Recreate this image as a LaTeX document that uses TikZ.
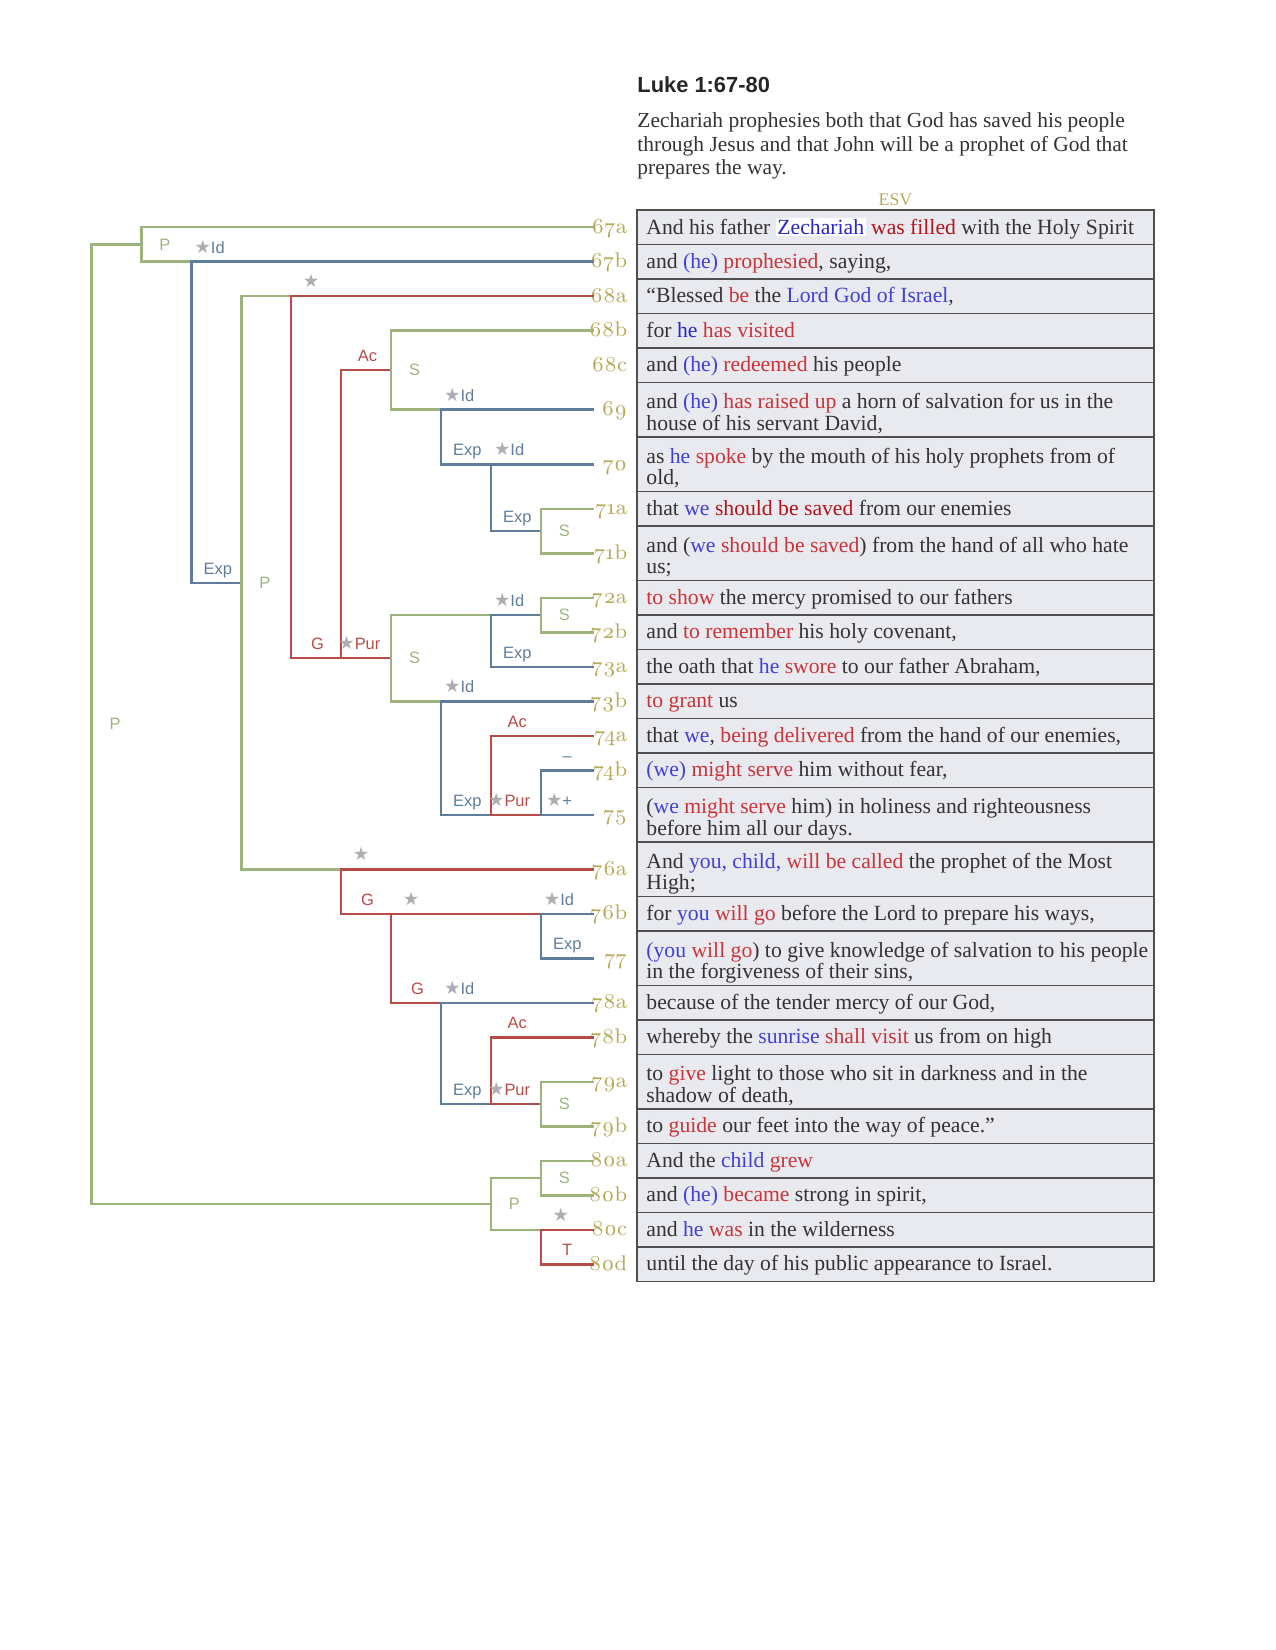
\documentclass[tikz,border=0pt]{standalone}
\usepackage{fontspec}
\setmainfont{Liberation Serif}
\newfontfamily\sansfont{Liberation Sans}
\newfontfamily\symfont{DejaVu Sans}
\newfontfamily\versefont[Numbers=OldStyle]{lmroman8-regular.otf}
\usepackage{tikz}
\usetikzlibrary{calc}

\definecolor{lgreen}{HTML}{9CB47C}
\definecolor{lblue}{HTML}{5E7D9C}
\definecolor{lred}{HTML}{B84B45}
\definecolor{versecol}{HTML}{B8A957}
\definecolor{stargrey}{HTML}{AEAEB2}
\definecolor{cellfill}{HTML}{E8EAEF}
\definecolor{cellline}{HTML}{4F4F4F}
\definecolor{ink}{HTML}{333333}
\definecolor{subj}{HTML}{4040D8}
\definecolor{verb}{HTML}{CC3338}
\definecolor{subjdk}{HTML}{2626CC}
\definecolor{verbdk}{HTML}{B5121B}
\setlength{\fboxsep}{0.8pt}

\newcommand\sj[1]{\textcolor{subj}{#1}}
\newcommand\vb[1]{\textcolor{verb}{#1}}
\newcommand\strmk{{\symfont\fontsize{8.8}{9}\selectfont\color{stargrey}★}}
\newcommand\topst{\rule{0pt}{7.4pt}}
\newcommand\botst{\rule[-2.4pt]{0pt}{2.4pt}}

\tikzset{
  grn/.style={draw=lgreen, line width=1.2pt, line cap=rect},
  blu/.style={draw=lblue, line width=1.2pt, line cap=rect},
  rd/.style={draw=lred, line width=1.2pt, line cap=rect},
  cell/.style={draw=cellline, fill=cellfill, line width=0.9pt},
  rowtext/.style={anchor=west, inner sep=0pt, align=left, text=ink, font=\fontsize{10.4}{10.2}\selectfont},
  verse/.style={anchor=base east, inner sep=0pt, text=versecol, font=\versefont\fontsize{10.2}{10}\selectfont},
  rel/.style={inner sep=0pt, anchor=base, xshift=12.7pt, yshift=4.1pt, font=\sansfont\fontsize{7.9}{9}\selectfont},
  lone/.style={inner sep=0pt, anchor=base, xshift=9.6pt, yshift=4.1pt},
  crd/.style={inner sep=0pt, xshift=11.3pt, text=lgreen, font=\sansfont\fontsize{7.9}{9}\selectfont},
}

\begin{document}
\begin{tikzpicture}[x=0.48pt, y=-0.48pt]
	\useasboundingbox (0,0) rectangle (1275,1650);
	%% heading
	\node[anchor=base west, inner sep=0pt, text=black!85, font=\sansfont\bfseries\fontsize{10.5}{12}\selectfont] (title) at (637,92.7) {Luke 1:67-80};
	\node[anchor=north west, inner sep=0pt, align=left, text=ink, font=\fontsize{10.3}{11.4}\selectfont] (desc) at (637,112) {Zechariah prophesies both that God has saved his people\\through Jesus and that John will be a prophet of God that\\prepares the way.};
	\node[inner sep=0pt, text=versecol, font=\fontsize{8.5}{10}\selectfont] (esv) at (895.4,199.3) {ESV};
	%% table rows
	\foreach \vn/\ya/\yb/\txt in {
		67a/210/244.5/{And his father \colorbox{white}{\textcolor{subjdk}{Zechariah}} \textcolor{verbdk}{was filled} with the Holy Spirit},
		67b/244.5/279/{and \sj{(he)} \vb{prophesied}, saying,},
		68a/279/313.5/{“Blessed \vb{be} the \sj{Lord God of Israel},},
		68b/313.5/348/{for \textcolor{subjdk}{he} \vb{has visited}},
		68c/348/382.5/{and \sj{(he)} \vb{redeemed} his people},
		69/382.5/437/{and \sj{(he)} \vb{has raised up} a horn of salvation for us in the\\house of his servant David,},
		70/437/491.5/{as \sj{he} \vb{spoke} by the mouth of his holy prophets from of\\old,},
		71a/491.5/526/{that \sj{we} \textcolor{verbdk}{should be saved} from our enemies},
		71b/526/580.5/{and (\sj{we} \vb{should be saved}) from the hand of all who hate\\us;},
		72a/580.5/615/{\vb{to show} the mercy promised to our fathers},
		72b/615/649.5/{and \vb{to remember} his holy covenant,},
		73a/649.5/684/{the oath that \sj{he} \vb{swore} to our father Abraham,},
		73b/684/718.5/{\vb{to grant} us},
		74a/718.5/753/{that \sj{we}, \vb{being delivered} from the hand of our enemies,},
		74b/753/787.5/{\sj{(we)} \vb{might serve} him without fear,},
		75/787.5/842/{(\sj{we} \vb{might serve} him) in holiness and righteousness\\before him all our days.},
		76a/842/896.5/{And \sj{you, child,} \vb{will be called} the prophet of the Most\\High;},
		76b/896.5/931/{for \sj{you} \vb{will go} before the Lord to prepare his ways,},
		77/931/985.5/{\sj{(you} \vb{will go}) to give knowledge of salvation to his people\\in the forgiveness of their sins,},
		78a/985.5/1020/{because of the tender mercy of our God,},
		78b/1020/1054.5/{whereby the \sj{sunrise} \vb{shall visit} us from on high},
		79a/1054.5/1109/{to \vb{give} light to those who sit in darkness and in the\\shadow of death,},
		79b/1109/1143.5/{to \vb{guide} our feet into the way of peace.”},
		80a/1143.5/1178/{And the \sj{child} \vb{grew}},
		80b/1178/1212.5/{and \sj{(he)} \vb{became} strong in spirit,},
		80c/1212.5/1247/{and \sj{he} \vb{was} in the wilderness},
		80d/1247/1281.5/{until the day of his public appearance to Israel.}}{
		\draw[cell] (637,\ya) rectangle (1154,\yb);
		\node[rowtext] (t\vn) at (646,{(\ya+\yb)/2+1.5+(\yb-\ya-34.5)*0.15}) {\topst\txt\botst};
		\node[verse] (v\vn) at (627.5,{(\ya+\yb)/2+6}) {\vn};
		\coordinate (e\vn) at (593,{(\ya+\yb)/2});
	}
	%% bracket levels and junctions
	\foreach \k in {0,...,9}
		\coordinate (L\k) at ({91.5+49.92*\k},0);
	\coordinate (jA) at ($(e67a)!.5!(e67b)$);
	\coordinate (jP3) at ($(e68a)!.5!(e76a)$);
	\coordinate (jS1) at ($(e68b)!.5!(e69)$);
	\coordinate (jS71) at ($(e71a)!.5!(e71b)$);
	\coordinate (jS72) at ($(e72a)!.5!(e72b)$);
	\coordinate (jS2) at ($(jS72)!.5!(e73b)$);
	\coordinate (jS79) at ($(e79a)!.5!(e79b)$);
	\coordinate (jS80) at ($(e80a)!.5!(e80b)$);
	\coordinate (jZ) at ($(jS80)!.5!(e80c)$);
	\coordinate (jR) at ($(jA)!.5!(jZ)$);
	%% root
	\draw[grn] (L0|-jA) -- (L0|-jZ);
	\draw[grn] (L0|-jA) -- (L1|-jA);
	\draw[grn] (L0|-jZ) -- (L8|-jZ);
	\node[crd] (pR) at (L0|-jR) {P};
	%% 67
	\draw[grn] (L1|-e67a) -- (L1|-e67b);
	\draw[grn] (L1|-e67a) -- (e67a);
	\draw[grn] (L1|-e67b) -- (L2|-e67b);
	\node[crd] (p67) at (L1|-jA) {P};
	\draw[blu] (L2|-e67b) -- (L2|-jP3);
	\draw[blu] (L2|-e67b) -- (e67b);
	\draw[blu] (L2|-jP3) -- (L3|-jP3);
	\node[rel, text=lblue] (id67) at (L2|-e67b) {\llap{\strmk}Id};
	\node[rel, text=lblue] (ex68) at (L2|-jP3) {Exp};
	%% 68a - 76a
	\draw[grn] (L3|-e68a) -- (L3|-e76a);
	\draw[grn] (L3|-e68a) -- (L4|-e68a);
	\draw[grn] (L3|-e76a) -- (L5|-e76a);
	\node[crd] (p68) at (L3|-jP3) {P};
	\draw[rd] (L4|-e68a) -- (L4|-jS2);
	\draw[rd] (L4|-e68a) -- (e68a);
	\draw[rd] (L4|-jS2) -- (L5|-jS2);
	\node[lone] (st68) at (L4|-e68a) {\strmk};
	\node[rel, text=lred] (g68) at (L4|-jS2) {G};
	\draw[rd] (L5|-jS1) -- (L5|-jS2);
	\draw[rd] (L5|-jS1) -- (L6|-jS1);
	\draw[rd] (L5|-jS2) -- (L6|-jS2);
	\node[rel, text=lred] (ac68) at (L5|-jS1) {Ac};
	\node[rel, text=lred] (pur72) at (L5|-jS2) {\llap{\strmk}Pur};
	%% 68b - 71b
	\draw[grn] (L6|-e68b) -- (L6|-e69);
	\draw[grn] (L6|-e68b) -- (e68b);
	\draw[grn] (L6|-e69) -- (L7|-e69);
	\node[crd] (s68) at (L6|-jS1) {S};
	\draw[blu] (L7|-e69) -- (L7|-e70);
	\draw[blu] (L7|-e69) -- (e69);
	\draw[blu] (L7|-e70) -- (L8|-e70);
	\node[rel, text=lblue] (id69) at (L7|-e69) {\llap{\strmk}Id};
	\node[rel, text=lblue] (ex70) at (L7|-e70) {Exp};
	\draw[blu] (L8|-e70) -- (L8|-jS71);
	\draw[blu] (L8|-e70) -- (e70);
	\draw[blu] (L8|-jS71) -- (L9|-jS71);
	\node[rel, text=lblue] (id70) at (L8|-e70) {\llap{\strmk}Id};
	\node[rel, text=lblue] (ex71) at (L8|-jS71) {Exp};
	\draw[grn] (L9|-e71a) -- (L9|-e71b);
	\draw[grn] (L9|-e71a) -- (e71a);
	\draw[grn] (L9|-e71b) -- (e71b);
	\node[crd] (s71) at (L9|-jS71) {S};
	%% 72a - 75
	\draw[grn] (L6|-jS72) -- (L6|-e73b);
	\draw[grn] (L6|-jS72) -- (L8|-jS72);
	\draw[grn] (L6|-e73b) -- (L7|-e73b);
	\node[crd] (s72) at (L6|-jS2) {S};
	\draw[blu] (L8|-jS72) -- (L8|-e73a);
	\draw[blu] (L8|-jS72) -- (L9|-jS72);
	\draw[blu] (L8|-e73a) -- (e73a);
	\node[rel, text=lblue] (id72) at (L8|-jS72) {\llap{\strmk}Id};
	\node[rel, text=lblue] (ex73) at (L8|-e73a) {Exp};
	\draw[grn] (L9|-e72a) -- (L9|-e72b);
	\draw[grn] (L9|-e72a) -- (e72a);
	\draw[grn] (L9|-e72b) -- (e72b);
	\node[crd] (s72b) at (L9|-jS72) {S};
	\draw[blu] (L7|-e73b) -- (L7|-e75);
	\draw[blu] (L7|-e73b) -- (e73b);
	\draw[blu] (L7|-e75) -- (L8|-e75);
	\node[rel, text=lblue] (id73) at (L7|-e73b) {\llap{\strmk}Id};
	\node[rel, text=lblue] (ex74) at (L7|-e75) {Exp};
	\draw[rd] (L8|-e74a) -- (L8|-e75);
	\draw[rd] (L8|-e74a) -- (e74a);
	\draw[rd] (L8|-e75) -- (L9|-e75);
	\node[rel, text=lred] (ac74) at (L8|-e74a) {Ac};
	\node[rel, text=lred] (pur74) at (L8|-e75) {\llap{\strmk}Pur};
	\draw[blu] (L9|-e74b) -- (L9|-e75);
	\draw[blu] (L9|-e74b) -- (e74b);
	\draw[blu] (L9|-e75) -- (e75);
	\node[rel, text=lblue] (mi74) at (L9|-e74b) {–};
	\node[rel, text=lblue] (pl75) at (L9|-e75) {\llap{\strmk}+};
	%% 76a - 79b
	\draw[rd] (L5|-e76a) -- (L5|-e76b);
	\draw[rd] (L5|-e76a) -- (e76a);
	\draw[rd] (L5|-e76b) -- (L6|-e76b);
	\node[lone] (st76) at (L5|-e76a) {\strmk};
	\node[rel, text=lred] (g76) at (L5|-e76b) {G};
	\draw[rd] (L6|-e76b) -- (L6|-e78a);
	\draw[rd] (L6|-e76b) -- (L9|-e76b);
	\draw[rd] (L6|-e78a) -- (L7|-e78a);
	\node[lone] (st76b) at (L6|-e76b) {\strmk};
	\node[rel, text=lred] (g78) at (L6|-e78a) {G};
	\draw[blu] (L9|-e76b) -- (L9|-e77);
	\draw[blu] (L9|-e76b) -- (e76b);
	\draw[blu] (L9|-e77) -- (e77);
	\node[rel, text=lblue] (id76) at (L9|-e76b) {\llap{\strmk}Id};
	\node[rel, text=lblue] (ex77) at (L9|-e77) {Exp};
	\draw[blu] (L7|-e78a) -- (L7|-jS79);
	\draw[blu] (L7|-e78a) -- (e78a);
	\draw[blu] (L7|-jS79) -- (L8|-jS79);
	\node[rel, text=lblue] (id78) at (L7|-e78a) {\llap{\strmk}Id};
	\node[rel, text=lblue] (ex79) at (L7|-jS79) {Exp};
	\draw[rd] (L8|-e78b) -- (L8|-jS79);
	\draw[rd] (L8|-e78b) -- (e78b);
	\draw[rd] (L8|-jS79) -- (L9|-jS79);
	\node[rel, text=lred] (ac78) at (L8|-e78b) {Ac};
	\node[rel, text=lred] (pur79) at (L8|-jS79) {\llap{\strmk}Pur};
	\draw[grn] (L9|-e79a) -- (L9|-e79b);
	\draw[grn] (L9|-e79a) -- (e79a);
	\draw[grn] (L9|-e79b) -- (e79b);
	\node[crd] (s79) at (L9|-jS79) {S};
	%% 80
	\draw[grn] (L8|-jS80) -- (L8|-e80c);
	\draw[grn] (L8|-jS80) -- (L9|-jS80);
	\draw[grn] (L8|-e80c) -- (L9|-e80c);
	\node[crd] (p80) at (L8|-jZ) {P};
	\draw[grn] (L9|-e80a) -- (L9|-e80b);
	\draw[grn] (L9|-e80a) -- (e80a);
	\draw[grn] (L9|-e80b) -- (e80b);
	\node[crd] (s80) at (L9|-jS80) {S};
	\draw[rd] (L9|-e80c) -- (L9|-e80d);
	\draw[rd] (L9|-e80c) -- (e80c);
	\draw[rd] (L9|-e80d) -- (e80d);
	\node[lone] (st80) at (L9|-e80c) {\strmk};
	\node[rel, text=lred] (t80) at (L9|-e80d) {T};
\end{tikzpicture}
\end{document}
